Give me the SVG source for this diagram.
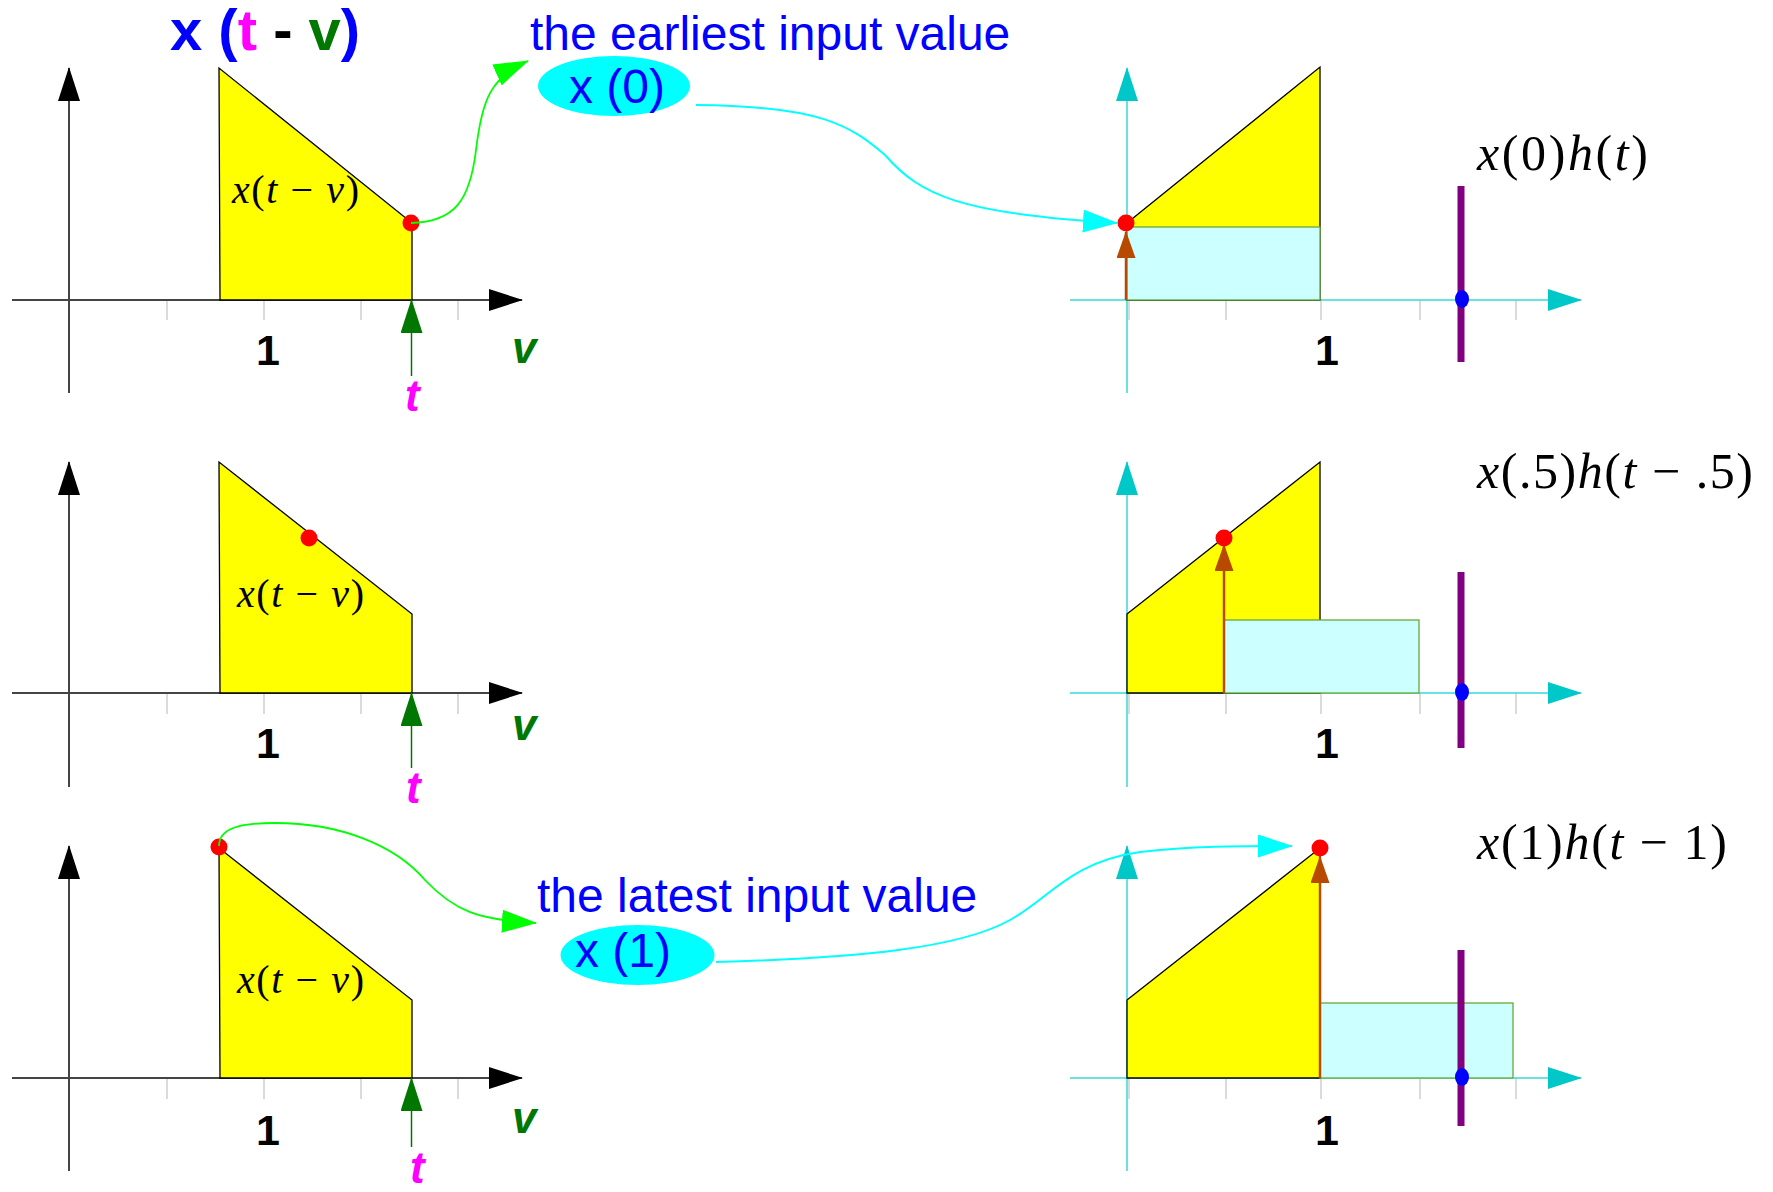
<svg xmlns="http://www.w3.org/2000/svg" width="1773" height="1192" viewBox="0 0 1773 1192">
<style>
  .axL{stroke:#444;stroke-width:2;fill:none}
  .axR{stroke:#3ad8d8;stroke-width:1.5;fill:none}
  .tick{stroke:#cfcfcf;stroke-width:1.5}
  .yel{fill:#ffff00;stroke:#000;stroke-width:1.3}
  .crect{fill:#ccffff;stroke:#66aa33;stroke-width:1.3}
  .red{fill:#ff0000}
  .blue{fill:#0000ff}
  .purple{stroke:#800080;stroke-width:7}
  .brown{stroke:#b84a00;stroke-width:2.5;fill:none}
  .tarr{stroke:#007700;stroke-width:1.5;fill:none}
  .gcon{stroke:#00ff00;stroke-width:1.8;fill:none}
  .ccon{stroke:#00ffff;stroke-width:2;fill:none}
  .num{font-family:"Liberation Sans",Arial,sans-serif;font-weight:bold;font-size:43px;fill:#000}
  .vlab{font-family:"Liberation Sans",Arial,sans-serif;font-weight:bold;font-style:italic;font-size:44px;fill:#007700}
  .tlab{font-family:"Liberation Sans",Arial,sans-serif;font-weight:bold;font-style:italic;font-size:44px;fill:#ff00ff}
  .math{font-family:"Liberation Serif","Times New Roman",serif;fill:#000}
  .i{font-style:italic}
  .cap{font-family:"Liberation Sans",Arial,sans-serif;font-size:48px;fill:#0000ff}
</style>
<defs>
  <marker id="mBlack" markerUnits="userSpaceOnUse" markerWidth="34" markerHeight="22" viewBox="0 0 34 22" refX="33" refY="11" orient="auto"><path d="M0 0 L34 11 L0 22 Z" fill="#000"/></marker>
  <marker id="mTeal" markerUnits="userSpaceOnUse" markerWidth="34" markerHeight="22" viewBox="0 0 34 22" refX="33" refY="11" orient="auto"><path d="M0 0 L34 11 L0 22 Z" fill="#00c8c8"/></marker>
  <marker id="mDG" markerUnits="userSpaceOnUse" markerWidth="34" markerHeight="22" viewBox="0 0 34 22" refX="33" refY="11" orient="auto"><path d="M0 0 L34 11 L0 22 Z" fill="#007700"/></marker>
  <marker id="mBrown" markerUnits="userSpaceOnUse" markerWidth="27" markerHeight="19" viewBox="0 0 27 19" refX="26" refY="9.5" orient="auto"><path d="M0 0 L27 9.5 L0 19 Z" fill="#b84a00"/></marker>
  <marker id="mLime" markerUnits="userSpaceOnUse" markerWidth="35" markerHeight="23" viewBox="0 0 35 23" refX="34" refY="11.5" orient="auto"><path d="M0 0 L35 11.5 L0 23 Z" fill="#00ff00"/></marker>
  <marker id="mCyan" markerUnits="userSpaceOnUse" markerWidth="35" markerHeight="23" viewBox="0 0 35 23" refX="34" refY="11.5" orient="auto"><path d="M0 0 L35 11.5 L0 23 Z" fill="#00ffff"/></marker>
</defs>
<rect width="1773" height="1192" fill="#fff"/>

<g id="title">
  <text x="170" y="50" font-family="'Liberation Sans',Arial,sans-serif" font-weight="bold" font-size="58" fill="#0000ff">x (<tspan fill="#ff00ff">t</tspan> <tspan fill="#000">-</tspan> <tspan fill="#007700">v</tspan>)</text>
</g>

<!-- Left row 1 -->
<g id="left-plot-1">
  <g class="tick"><line x1="69" y1="300" x2="69" y2="320"/><line x1="167" y1="300" x2="167" y2="320"/><line x1="264" y1="300" x2="264" y2="320"/><line x1="361" y1="300" x2="361" y2="320"/><line x1="458" y1="300" x2="458" y2="320"/></g>
  <line class="axL" x1="12" y1="300" x2="522" y2="300" marker-end="url(#mBlack)"/>
  <line class="axL" x1="69" y1="393" x2="69" y2="68" marker-end="url(#mBlack)"/>
  <polygon class="yel" points="219,68 220,300 412,300 412,223"/>
  <text class="math" x="232" y="203" font-size="40" textLength="127" lengthAdjust="spacing"><tspan class="i">x</tspan>(<tspan class="i">t</tspan> − <tspan class="i">v</tspan>)</text>
  <line class="tarr" x1="411.5" y1="376" x2="411.5" y2="300" marker-end="url(#mDG)"/>
  <circle class="red" cx="411" cy="223" r="8.5"/>
  <text class="num" x="268" y="365" text-anchor="middle">1</text>
  <text class="vlab" x="512" y="363">v</text>
  <text class="tlab" x="405" y="411">t</text>
</g>

<!-- Left row 2 -->
<g id="left-plot-2">
  <g class="tick"><line x1="69" y1="693" x2="69" y2="714"/><line x1="167" y1="693" x2="167" y2="714"/><line x1="264" y1="693" x2="264" y2="714"/><line x1="361" y1="693" x2="361" y2="714"/><line x1="458" y1="693" x2="458" y2="714"/></g>
  <line class="axL" x1="12" y1="693" x2="522" y2="693" marker-end="url(#mBlack)"/>
  <line class="axL" x1="69" y1="787" x2="69" y2="462" marker-end="url(#mBlack)"/>
  <polygon class="yel" points="219,462 220,693 412,693 412,614"/>
  <text class="math" x="237" y="607" font-size="40" textLength="127" lengthAdjust="spacing"><tspan class="i">x</tspan>(<tspan class="i">t</tspan> − <tspan class="i">v</tspan>)</text>
  <line class="tarr" x1="411.5" y1="768" x2="411.5" y2="693" marker-end="url(#mDG)"/>
  <circle class="red" cx="309" cy="538" r="8.5"/>
  <text class="num" x="268" y="758" text-anchor="middle">1</text>
  <text class="vlab" x="512" y="740">v</text>
  <text class="tlab" x="406" y="803">t</text>
</g>

<!-- Left row 3 -->
<g id="left-plot-3">
  <g class="tick"><line x1="69" y1="1078" x2="69" y2="1099"/><line x1="167" y1="1078" x2="167" y2="1099"/><line x1="264" y1="1078" x2="264" y2="1099"/><line x1="361" y1="1078" x2="361" y2="1099"/><line x1="458" y1="1078" x2="458" y2="1099"/></g>
  <line class="axL" x1="12" y1="1078" x2="522" y2="1078" marker-end="url(#mBlack)"/>
  <line class="axL" x1="69" y1="1171" x2="69" y2="846" marker-end="url(#mBlack)"/>
  <polygon class="yel" points="219,848 220,1078 412,1078 412,1000"/>
  <text class="math" x="237" y="993" font-size="40" textLength="127" lengthAdjust="spacing"><tspan class="i">x</tspan>(<tspan class="i">t</tspan> − <tspan class="i">v</tspan>)</text>
  <line class="tarr" x1="411.5" y1="1147" x2="411.5" y2="1078" marker-end="url(#mDG)"/>
  <circle class="red" cx="219" cy="847" r="8.5"/>
  <text class="num" x="268" y="1145" text-anchor="middle">1</text>
  <text class="vlab" x="512" y="1133">v</text>
  <text class="tlab" x="410" y="1183">t</text>
</g>

<!-- Right row 1 -->
<g id="right-plot-1">
  <g class="tick"><line x1="1129" y1="300" x2="1129" y2="320"/><line x1="1226" y1="300" x2="1226" y2="320"/><line x1="1321" y1="300" x2="1321" y2="320"/><line x1="1420" y1="300" x2="1420" y2="320"/><line x1="1516" y1="300" x2="1516" y2="320"/></g>
  <line class="axR" x1="1070" y1="300" x2="1581" y2="300" marker-end="url(#mTeal)"/>
  <line class="axR" x1="1127" y1="393" x2="1127" y2="68" marker-end="url(#mTeal)"/>
  <polygon class="yel" points="1127,223 1320,67 1320,300 1127,300"/>
  <rect class="crect" x="1127" y="227" width="193" height="73"/>
  <line class="brown" x1="1126" y1="300" x2="1126" y2="232" marker-end="url(#mBrown)"/>
  <circle class="red" cx="1126" cy="223" r="8.5"/>
  <line class="purple" x1="1461" y1="186" x2="1461" y2="362"/>
  <ellipse class="blue" cx="1462" cy="299" rx="7" ry="9"/>
  <text class="num" x="1327" y="365" text-anchor="middle">1</text>
  <text class="math" x="1477" y="170" font-size="50" textLength="171" lengthAdjust="spacing"><tspan class="i">x</tspan>(0)<tspan class="i">h</tspan>(<tspan class="i">t</tspan>)</text>
</g>

<!-- Right row 2 -->
<g id="right-plot-2">
  <g class="tick"><line x1="1129" y1="693" x2="1129" y2="714"/><line x1="1226" y1="693" x2="1226" y2="714"/><line x1="1321" y1="693" x2="1321" y2="714"/><line x1="1420" y1="693" x2="1420" y2="714"/><line x1="1516" y1="693" x2="1516" y2="714"/></g>
  <line class="axR" x1="1070" y1="693" x2="1581" y2="693" marker-end="url(#mTeal)"/>
  <line class="axR" x1="1127" y1="787" x2="1127" y2="462" marker-end="url(#mTeal)"/>
  <polygon class="yel" points="1127,614 1320,462 1320,693 1127,693"/>
  <rect class="crect" x="1224" y="620" width="195" height="73"/>
  <line class="brown" x1="1224" y1="693" x2="1224" y2="545" marker-end="url(#mBrown)"/>
  <circle class="red" cx="1224" cy="538" r="8.5"/>
  <line class="purple" x1="1461" y1="572" x2="1461" y2="748"/>
  <ellipse class="blue" cx="1462" cy="692" rx="7" ry="9"/>
  <text class="num" x="1327" y="758" text-anchor="middle">1</text>
  <text class="math" x="1477" y="488" font-size="50" textLength="276" lengthAdjust="spacing"><tspan class="i">x</tspan>(.5)<tspan class="i">h</tspan>(<tspan class="i">t</tspan> − .5)</text>
</g>

<!-- Right row 3 -->
<g id="right-plot-3">
  <g class="tick"><line x1="1129" y1="1078" x2="1129" y2="1099"/><line x1="1226" y1="1078" x2="1226" y2="1099"/><line x1="1321" y1="1078" x2="1321" y2="1099"/><line x1="1420" y1="1078" x2="1420" y2="1099"/><line x1="1516" y1="1078" x2="1516" y2="1099"/></g>
  <line class="axR" x1="1070" y1="1078" x2="1581" y2="1078" marker-end="url(#mTeal)"/>
  <line class="axR" x1="1127" y1="1171" x2="1127" y2="846" marker-end="url(#mTeal)"/>
  <polygon class="yel" points="1127,1000 1320,848 1320,1078 1127,1078"/>
  <rect class="crect" x="1320" y="1003" width="193" height="75"/>
  <line class="brown" x1="1320" y1="1078" x2="1320" y2="857" marker-end="url(#mBrown)"/>
  <circle class="red" cx="1320" cy="848" r="8.5"/>
  <line class="purple" x1="1461" y1="950" x2="1461" y2="1126"/>
  <ellipse class="blue" cx="1462" cy="1077" rx="7" ry="9"/>
  <text class="num" x="1327" y="1145" text-anchor="middle">1</text>
  <text class="math" x="1477" y="859" font-size="50" textLength="250" lengthAdjust="spacing"><tspan class="i">x</tspan>(1)<tspan class="i">h</tspan>(<tspan class="i">t</tspan> − 1)</text>
</g>

<g id="earliest-node">
  <text class="cap" x="530" y="50">the earliest input value</text>
  <ellipse cx="614" cy="86" rx="76" ry="30" fill="#00ffff"/>
  <text class="cap" x="569" y="103" font-size="47">x (0)</text>
</g>

<g id="latest-node">
  <text class="cap" x="537" y="912">the latest input value</text>
  <ellipse cx="637.5" cy="955" rx="77" ry="30" fill="#00ffff"/>
  <text class="cap" x="575" y="967" font-size="47">x (1)</text>
</g>

<g id="connectors">
  <path class="gcon" d="M 411 223 C 455 222, 470 200, 476 150 C 482 100, 490 78, 528 61" marker-end="url(#mLime)"/>
  <path class="ccon" d="M 696 105 C 820 106, 850 125, 885 155 C 920 195, 960 214, 1117 223" marker-end="url(#mCyan)"/>
  <path class="gcon" d="M 219 846 C 219 828, 240 823, 275 823 C 340 823, 395 845, 425 880 C 455 912, 480 920, 536 923" marker-end="url(#mLime)"/>
  <path class="ccon" d="M 716 962 C 860 958, 960 948, 1010 920 C 1050 898, 1070 862, 1140 852 C 1190 846, 1240 846, 1292 846" marker-end="url(#mCyan)"/>
</g>
</svg>
